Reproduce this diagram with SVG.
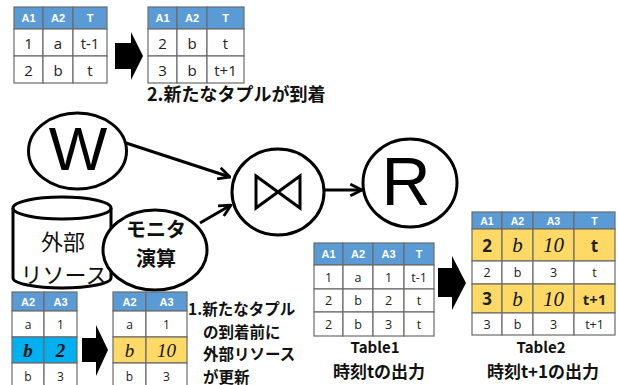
<svg xmlns="http://www.w3.org/2000/svg" width="618" height="385" viewBox="0 0 618 385">
<style>
.c{stroke:#6b6b6b;stroke-width:1.2;fill:#fff}
.h{stroke:#6b6b6b;stroke-width:1.2;fill:#5B9BD5}
.y{stroke:#6b6b6b;stroke-width:1.2;fill:#FFD966}
.b{stroke:#6b6b6b;stroke-width:1.2;fill:#00B0F0}
.ht{font-family:"Liberation Sans",Arial,sans-serif;font-weight:bold;fill:#fff;text-anchor:middle;dominant-baseline:central}
.ct{font-family:"Open Sans","Liberation Sans",sans-serif;fill:#222;text-anchor:middle;dominant-baseline:central}
.it{font-family:"Liberation Serif","DejaVu Serif",serif;font-style:italic;fill:#111;text-anchor:middle;dominant-baseline:central}
.jp{font-family:"Noto Sans CJK JP",sans-serif;font-weight:bold;fill:#111}
.nd{fill:#fff;stroke:#000;stroke-width:3}
.ln{fill:none;stroke:#000;stroke-width:3}
.blk{fill:#000}
</style>
<defs>
<marker id="ah" viewBox="0 0 12 12" refX="11" refY="6" markerWidth="14" markerHeight="14" markerUnits="userSpaceOnUse" orient="auto">
<path d="M1,1 L11,6 L1,11" fill="none" stroke="#000" stroke-width="2.4"/>
</marker>
</defs>

<!-- top-left table -->
<g id="tableA">
<rect class="h" x="14" y="7" width="29" height="22"/><rect class="h" x="43" y="7" width="30" height="22"/><rect class="h" x="73" y="7" width="34" height="22"/>
<rect class="c" x="14" y="29" width="29" height="27"/><rect class="c" x="43" y="29" width="30" height="27"/><rect class="c" x="73" y="29" width="34" height="27"/>
<rect class="c" x="14" y="56" width="29" height="27"/><rect class="c" x="43" y="56" width="30" height="27"/><rect class="c" x="73" y="56" width="34" height="27"/>
<g class="ht" font-size="11"><text x="28.5" y="18">A1</text><text x="58" y="18">A2</text><text x="90" y="18">T</text></g>
<g class="ct" font-size="15"><text x="28.5" y="42.5">1</text><text x="58" y="42.5">a</text><text x="90" y="42.5">t-1</text>
<text x="28.5" y="69.5">2</text><text x="58" y="69.5">b</text><text x="90" y="69.5">t</text></g>
</g>

<polygon id="arrowTop" class="blk" points="115,43 131,43 131,32 143,56 131,80 131,69 115,69"/>

<g id="tableB">
<rect class="h" x="148" y="7" width="29" height="22"/><rect class="h" x="177" y="7" width="30" height="22"/><rect class="h" x="207" y="7" width="37" height="22"/>
<rect class="c" x="148" y="29" width="29" height="27"/><rect class="c" x="177" y="29" width="30" height="27"/><rect class="c" x="207" y="29" width="37" height="27"/>
<rect class="c" x="148" y="56" width="29" height="27"/><rect class="c" x="177" y="56" width="30" height="27"/><rect class="c" x="207" y="56" width="37" height="27"/>
<g class="ht" font-size="11"><text x="162.5" y="18">A1</text><text x="192" y="18">A2</text><text x="225.5" y="18">T</text></g>
<g class="ct" font-size="15"><text x="162.5" y="42.5">2</text><text x="192" y="42.5">b</text><text x="225.5" y="42.5">t</text>
<text x="162.5" y="69.5">3</text><text x="192" y="69.5">b</text><text x="225.5" y="69.5">t+1</text></g>
</g>
<text id="label2" class="jp" x="147" y="101" font-size="18">2.新たなタプルが到着</text>

<!-- connectors -->
<g id="connectors">
<line class="ln" x1="126" y1="143" x2="230" y2="177" marker-end="url(#ah)"/>
<line class="ln" x1="200" y1="223" x2="231" y2="205" marker-end="url(#ah)"/>
<line class="ln" x1="324" y1="190" x2="362" y2="190" marker-end="url(#ah)"/>
</g>

<g id="nodeW">
<ellipse class="nd" cx="77.5" cy="151" rx="49" ry="38"/>
<text x="78" y="170" font-family="Liberation Sans,Arial,sans-serif" font-size="62" text-anchor="middle">W</text>
</g>

<g id="nodeJoin">
<ellipse class="nd" cx="278" cy="192" rx="46" ry="43"/>
<path class="ln" d="M256,176 L300,208 L300,176 L256,208 Z" stroke-linejoin="miter"/>
</g>

<g id="nodeR">
<ellipse class="nd" cx="410" cy="183" rx="47" ry="44"/>
<text x="406" y="205" font-family="Liberation Sans,Arial,sans-serif" font-size="68" text-anchor="middle">R</text>
</g>

<g id="nodeResource">
<path class="nd" d="M13,208 L13,278 A49,10 0 0 0 111,278 L111,208"/>
<ellipse class="nd" cx="62" cy="208" rx="49" ry="11"/>
<text x="63" y="250" font-family="Noto Sans CJK JP,sans-serif" font-size="22" text-anchor="middle" fill="#111">外部</text>
<text x="64" y="283" font-family="Noto Sans CJK JP,sans-serif" font-size="22" text-anchor="middle" fill="#111">リソース</text>
</g>

<g id="nodeMonitor">
<ellipse class="nd" cx="155" cy="250" rx="52" ry="40"/>
<text class="jp" x="156" y="237" font-size="20" text-anchor="middle">モニタ</text>
<text class="jp" x="156" y="266" font-size="20" text-anchor="middle">演算</text>
</g>

<!-- bottom-left tables -->
<g id="tableC">
<rect class="h" x="12" y="292" width="32" height="19"/><rect class="h" x="44" y="292" width="33" height="19"/>
<rect class="c" x="12" y="311" width="32" height="26"/><rect class="c" x="44" y="311" width="33" height="26"/>
<rect class="b" x="12" y="337" width="32" height="26"/><rect class="b" x="44" y="337" width="33" height="26"/>
<rect class="c" x="12" y="363" width="32" height="26"/><rect class="c" x="44" y="363" width="33" height="26"/>
<g class="ht" font-size="11"><text x="28" y="301.5">A2</text><text x="60.5" y="301.5">A3</text></g>
<g class="ct" font-size="12"><text x="28" y="324">a</text><text x="60.5" y="324">1</text><text x="28" y="376">b</text><text x="60.5" y="376">3</text></g>
<g class="it" font-size="19" font-weight="bold"><text x="28" y="350">b</text><text x="60.5" y="350">2</text></g>
</g>

<polygon id="arrowLow" class="blk" points="82,338 96,338 96,325 108,350 96,376 96,362 82,362"/>

<g id="tableD">
<rect class="h" x="113" y="292" width="33" height="19"/><rect class="h" x="146" y="292" width="41" height="19"/>
<rect class="c" x="113" y="311" width="33" height="26"/><rect class="c" x="146" y="311" width="41" height="26"/>
<rect class="y" x="113" y="337" width="33" height="26"/><rect class="y" x="146" y="337" width="41" height="26"/>
<rect class="c" x="113" y="363" width="33" height="26"/><rect class="c" x="146" y="363" width="41" height="26"/>
<g class="ht" font-size="11"><text x="129.5" y="301.5">A2</text><text x="166.5" y="301.5">A3</text></g>
<g class="ct" font-size="12"><text x="129.5" y="324">a</text><text x="166.5" y="324">1</text><text x="129.5" y="376">b</text><text x="166.5" y="376">3</text></g>
<g class="it" font-size="19"><text x="129.5" y="350">b</text><text x="166.5" y="350">10</text></g>
</g>

<g id="label1" class="jp" font-size="15.5">
<text x="188" y="315">1.新たなタプル</text>
<text x="203" y="337.5">の到着前に</text>
<text x="203" y="360">外部リソース</text>
<text x="203" y="382.5">が更新</text>
</g>

<!-- Table 1 -->
<g id="table1">
<rect class="h" x="314" y="243" width="29" height="22"/><rect class="h" x="343" y="243" width="30" height="22"/><rect class="h" x="373" y="243" width="31" height="22"/><rect class="h" x="404" y="243" width="30" height="22"/>
<rect class="c" x="314" y="265" width="29" height="24"/><rect class="c" x="343" y="265" width="30" height="24"/><rect class="c" x="373" y="265" width="31" height="24"/><rect class="c" x="404" y="265" width="30" height="24"/>
<rect class="c" x="314" y="289" width="29" height="23"/><rect class="c" x="343" y="289" width="30" height="23"/><rect class="c" x="373" y="289" width="31" height="23"/><rect class="c" x="404" y="289" width="30" height="23"/>
<rect class="c" x="314" y="312" width="29" height="24"/><rect class="c" x="343" y="312" width="30" height="24"/><rect class="c" x="373" y="312" width="31" height="24"/><rect class="c" x="404" y="312" width="30" height="24"/>
<g class="ht" font-size="11"><text x="328.5" y="254">A1</text><text x="358" y="254">A2</text><text x="388.5" y="254">A3</text><text x="419" y="254">T</text></g>
<g class="ct" font-size="12.5">
<text x="328.5" y="277">1</text><text x="358" y="277">a</text><text x="388.5" y="277">1</text><text x="419" y="277">t-1</text>
<text x="328.5" y="300.5">2</text><text x="358" y="300.5">b</text><text x="388.5" y="300.5">2</text><text x="419" y="300.5">t</text>
<text x="328.5" y="324">2</text><text x="358" y="324">b</text><text x="388.5" y="324">3</text><text x="419" y="324">t</text>
</g>
<text class="jp" x="375" y="353" font-size="15" text-anchor="middle">Table1</text>
<text class="jp" x="379" y="378" font-size="17" text-anchor="middle">時刻tの出力</text>
</g>

<polygon id="arrowRight" class="blk" points="438,268 452,268 452,256 466,283 452,310 452,297 438,297"/>

<!-- Table 2 -->
<g id="table2">
<rect class="h" x="472" y="212" width="30" height="17"/><rect class="h" x="502" y="212" width="31" height="17"/><rect class="h" x="533" y="212" width="41" height="17"/><rect class="h" x="574" y="212" width="41" height="17"/>
<rect class="y" x="472" y="229" width="30" height="32"/><rect class="y" x="502" y="229" width="31" height="32"/><rect class="y" x="533" y="229" width="41" height="32"/><rect class="y" x="574" y="229" width="41" height="32"/>
<rect class="c" x="472" y="261" width="30" height="23"/><rect class="c" x="502" y="261" width="31" height="23"/><rect class="c" x="533" y="261" width="41" height="23"/><rect class="c" x="574" y="261" width="41" height="23"/>
<rect class="y" x="472" y="284" width="30" height="29"/><rect class="y" x="502" y="284" width="31" height="29"/><rect class="y" x="533" y="284" width="41" height="29"/><rect class="y" x="574" y="284" width="41" height="29"/>
<rect class="c" x="472" y="313" width="30" height="22"/><rect class="c" x="502" y="313" width="31" height="22"/><rect class="c" x="533" y="313" width="41" height="22"/><rect class="c" x="574" y="313" width="41" height="22"/>
<g class="ht" font-size="10.5"><text x="487" y="220.5">A1</text><text x="517.5" y="220.5">A2</text><text x="553.5" y="220.5">A3</text><text x="594.5" y="220.5">T</text></g>
<g class="ct" font-size="17" font-weight="bold"><text x="487" y="245">2</text><text x="594.5" y="245">t</text><text x="487" y="298.5">3</text><text x="594.5" y="298.5" font-size="15">t+1</text></g>
<g class="it" font-size="21"><text x="517.5" y="245">b</text><text x="553.5" y="245">10</text><text x="517.5" y="298.5">b</text><text x="553.5" y="298.5">10</text></g>
<g class="ct" font-size="12.5">
<text x="487" y="272.5">2</text><text x="517.5" y="272.5">b</text><text x="553.5" y="272.5">3</text><text x="594.5" y="272.5">t</text>
<text x="487" y="324">3</text><text x="517.5" y="324">b</text><text x="553.5" y="324">3</text><text x="594.5" y="324">t+1</text>
</g>
<text class="jp" x="541" y="353" font-size="15" text-anchor="middle">Table2</text>
<text class="jp" x="543" y="378" font-size="17" text-anchor="middle">時刻t+1の出力</text>
</g>
</svg>
